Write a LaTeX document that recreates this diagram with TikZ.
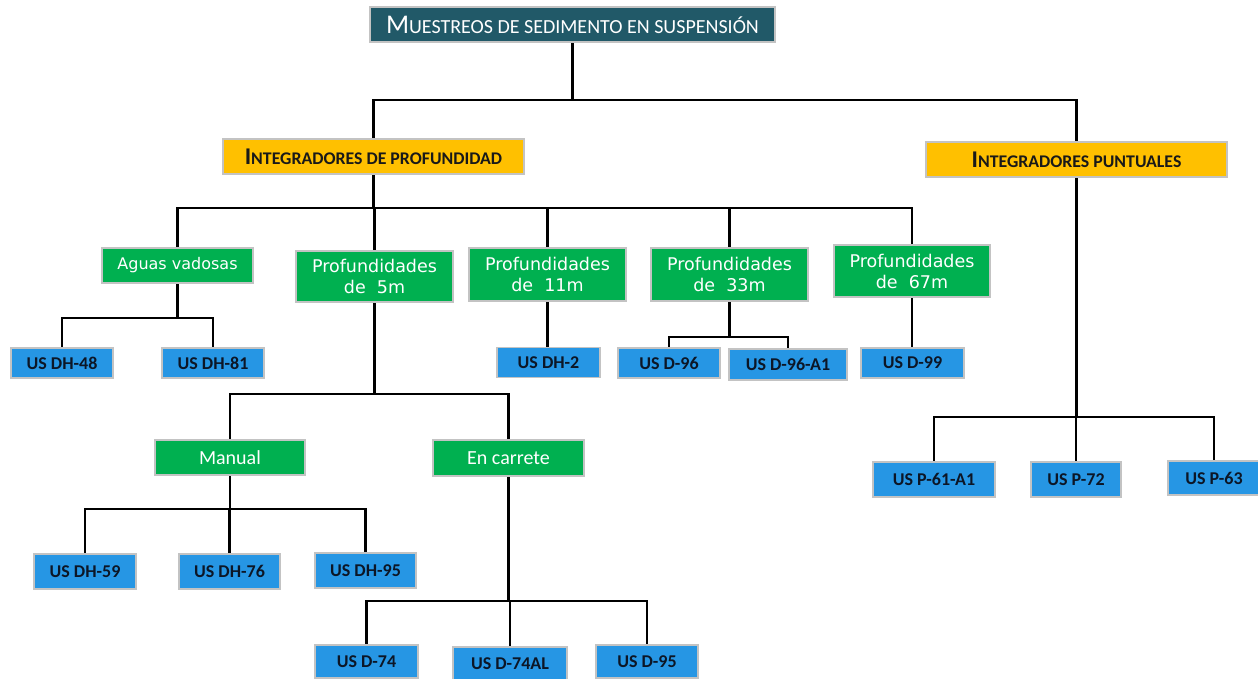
\documentclass[tikz,border=0pt]{standalone}
\usepackage{fontspec}
\setmainfont{Carlito}
\newfontfamily\greenfont{DejaVu Sans}
\usetikzlibrary{backgrounds}
\definecolor{titlefill}{RGB}{33,89,104}
\definecolor{yelfill}{RGB}{255,192,0}
\definecolor{grnfill}{RGB}{0,176,80}
\definecolor{blufill}{RGB}{38,150,228}
\definecolor{boxgray}{RGB}{195,195,195}
\definecolor{darktxt}{RGB}{25,25,25}
\definecolor{bluetxt}{RGB}{12,22,38}
\newcommand\bigsc[2]{{\fontsize{#1}{#1}\selectfont #2}}
\begin{document}
\begin{tikzpicture}[x=1pt,y=-1pt,
  box/.style={draw=boxgray, line width=1.2pt, inner sep=0pt, align=center},
  titlebox/.style={box, fill=titlefill, text=white},
  yellowbox/.style={box, fill=yelfill, text=darktxt, font=\bfseries},
  greenbox/.style={box, fill=grnfill, text=white, font=\greenfont\fontsize{16}{21}\selectfont},
  greendeep/.style={box, fill=grnfill, text=white, font=\greenfont\fontsize{17.5}{21}\selectfont},
  greenplain/.style={box, fill=grnfill, text=white, font=\fontsize{20}{20}\selectfont},
  bluebox/.style={box, fill=blufill, text=bluetxt, font=\bfseries\fontsize{18}{18}\selectfont},
  conn/.style={line width=2.9pt, black}
]
\useasboundingbox (0,0) rectangle (1258,678);
\clip (0,0) rectangle (1258,678);
% top
\node[titlebox, minimum width=405pt, minimum height=35pt] (title) at (572.5,24.5)
  {\bigsc{27}{M}\bigsc{20}{UESTREOS DE SEDIMENTO EN SUSPENSIÓN}};
\node[yellowbox, minimum width=301pt, minimum height=35pt] (ip) at (373.5,156.5)
  {\bigsc{24}{I}\bigsc{17.8}{NTEGRADORES DE PROFUNDIDAD}};
\node[yellowbox, minimum width=301pt, minimum height=35pt] (pu) at (1076.5,159.5)
  {\bigsc{24}{I}\bigsc{17.8}{NTEGRADORES PUNTUALES}};
% level 2
\node[greenbox, minimum width=151pt, minimum height=35pt] (av) at (177.5,265.5) {Aguas vadosas};
\node[greendeep, minimum width=157pt, minimum height=51pt] (p5) at (374.5,276.5) {Profundidades\\de~~5m};
\node[greendeep, minimum width=157pt, minimum height=53pt] (p11) at (547.5,274.5) {Profundidades\\de~~11m};
\node[greendeep, minimum width=157pt, minimum height=53pt] (p33) at (729.5,274.5) {Profundidades\\de~~33m};
\node[greendeep, minimum width=156pt, minimum height=52pt] (p67) at (912,271) {Profundidades\\de~~67m};
% level 3 blue
\node[bluebox, minimum width=102pt, minimum height=30pt] (dh48) at (62,363) {US DH-48};
\node[bluebox, minimum width=102pt, minimum height=30pt] (dh81) at (213,363) {US DH-81};
\node[bluebox, minimum width=103pt, minimum height=30pt] (dh2) at (548.5,362.5) {US DH-2};
\node[bluebox, minimum width=102pt, minimum height=30pt] (d96) at (669,363) {US D-96};
\node[bluebox, minimum width=118pt, minimum height=31pt] (d96a1) at (788,364.5) {US D-96-A1};
\node[bluebox, minimum width=103pt, minimum height=30pt] (d99) at (912.5,363) {US D-99};
% puntuales children
\node[bluebox, minimum width=122pt, minimum height=35pt] (p61) at (934,479.5) {US P-61-A1};
\node[bluebox, minimum width=90pt, minimum height=35pt] (p72) at (1076,479.5) {US P-72};
\node[bluebox, minimum width=92pt, minimum height=34pt] (p63) at (1214,478) {US P-63};
% 5m children
\node[greenplain, minimum width=150pt, minimum height=35pt] (manual) at (230,457.5) {Manual};
\node[greenplain, minimum width=151pt, minimum height=36pt] (carrete) at (508.5,458) {En carrete};
\node[bluebox, minimum width=102pt, minimum height=35pt] (dh59) at (85,571.5) {US DH-59};
\node[bluebox, minimum width=101pt, minimum height=35pt] (dh76) at (229.5,571.5) {US DH-76};
\node[bluebox, minimum width=101pt, minimum height=35pt] (dh95) at (365.5,570.5) {US DH-95};
\node[bluebox, minimum width=103pt, minimum height=33pt] (d74) at (366.5,661.5) {US D-74};
\node[bluebox, minimum width=114pt, minimum height=33pt] (d74al) at (510,663.5) {US D-74AL};
\node[bluebox, minimum width=102pt, minimum height=33pt] (d95) at (647,661.5) {US D-95};
% bus levels
\coordinate (b0) at (0,100);
\coordinate (b1) at (0,208);
\coordinate (bav) at (0,318);
\coordinate (b5) at (0,394);
\coordinate (b33) at (0,337);
\coordinate (bpu) at (0,417);
\coordinate (bman) at (0,509);
\coordinate (bcar) at (0,601);
\begin{scope}[on background layer]
\draw[conn] (title.south) -- (title.south |- b0);
\draw[conn] (ip.north) |- (pu.north |- b0) -- (pu.north);
\draw[conn] (ip.south) -- (ip.south |- b1);
\draw[conn] (av.north) |- (p67.north |- b1) -- (p67.north);
\draw[conn] (p5.north) -- (p5.north |- b1);
\draw[conn] (p11.north) -- (p11.north |- b1);
\draw[conn] (p33.north) -- (p33.north |- b1);
\draw[conn] (av.south) -- (av.south |- bav);
\draw[conn] (dh48.north) |- (dh81.north |- bav) -- (dh81.north);
\draw[conn] (p5.south) -- (p5.south |- b5);
\draw[conn] (manual.north) |- (carrete.north |- b5) -- (carrete.north);
\draw[conn] (p11.south) -- (p11.south |- dh2.north);
\draw[conn] (p33.south) -- (p33.south |- b33);
\draw[conn] (d96.north) |- (d96a1.north |- b33) -- (d96a1.north);
\draw[conn] (p67.south) -- (p67.south |- d99.north);
\draw[conn] (pu.south) -- (pu.south |- bpu);
\draw[conn] (p61.north) |- (p63.north |- bpu) -- (p63.north);
\draw[conn] (p72.north) -- (p72.north |- bpu);
\draw[conn] (manual.south) -- (manual.south |- bman);
\draw[conn] (dh59.north) |- (dh95.north |- bman) -- (dh95.north);
\draw[conn] (dh76.north) -- (dh76.north |- bman);
\draw[conn] (carrete.south) -- (carrete.south |- bcar);
\draw[conn] (d74.north) |- (d95.north |- bcar) -- (d95.north);
\draw[conn] (d74al.north) -- (d74al.north |- bcar);
\end{scope}
\end{tikzpicture}
\end{document}
